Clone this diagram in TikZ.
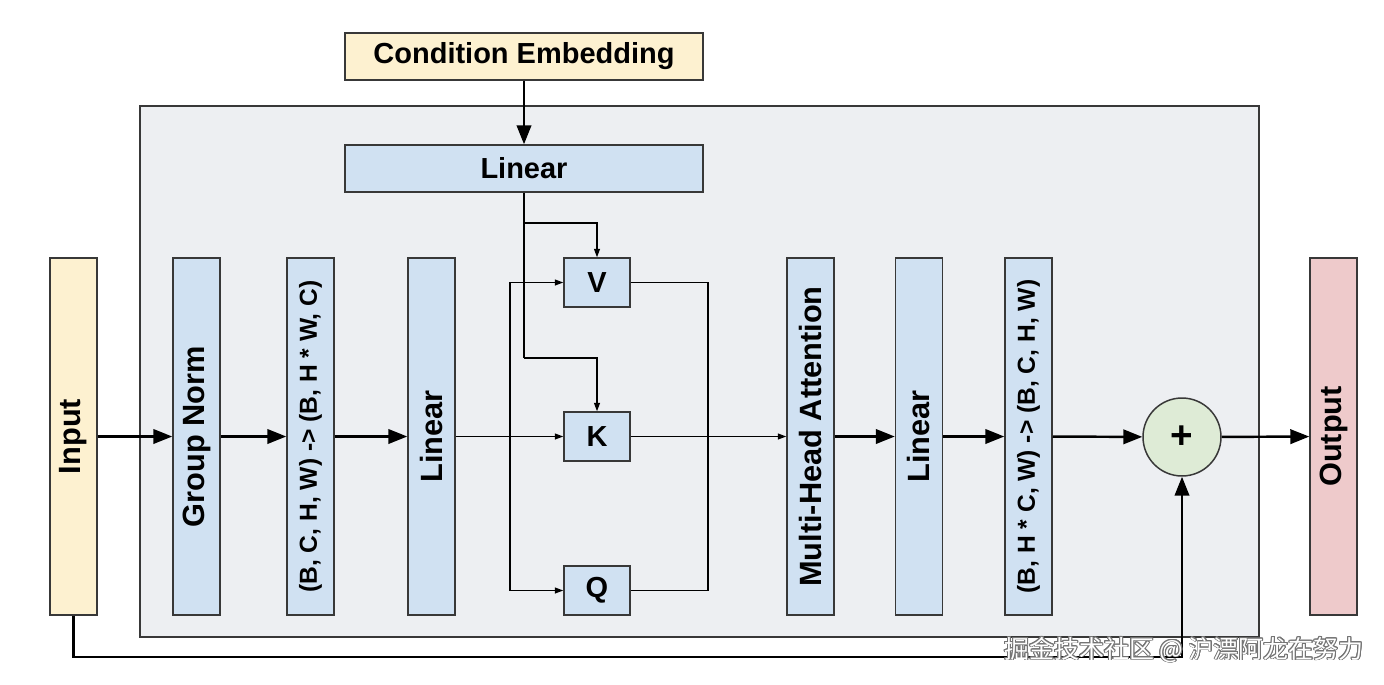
\documentclass[tikz,border=0pt]{standalone}
\usepackage{fontspec}
\setmainfont{Liberation Sans}
\newfontfamily\cjk{Noto Sans CJK SC}
\usepackage{graphicx}
\usepackage{xcolor}
\usepackage{contour}
\usetikzlibrary{arrows.meta}

\definecolor{panelgray}{HTML}{EDEFF2}
\definecolor{edgegray}{HTML}{383838}
\definecolor{boxblue}{HTML}{D0E1F2}
\definecolor{boxyellow}{HTML}{FDF1D0}
\definecolor{boxpink}{HTML}{EECACB}
\definecolor{boxgreen}{HTML}{DEEBD6}
\contourlength{0.5pt}

\begin{document}
\begin{tikzpicture}[x=0.02cm, y=-0.02cm,
        block/.style={draw=edgegray, line width=0.85pt, fill=boxblue, inner sep=0pt,
            minimum width=0.94cm, minimum height=7.14cm,
            font=\bfseries\fontsize{17.5}{20}\selectfont},
        shapebox/.style={block, font=\bfseries\fontsize{14}{16}\selectfont},
        smallbox/.style={draw=edgegray, line width=0.85pt, fill=boxblue, inner sep=0pt,
            minimum width=1.32cm, minimum height=0.98cm,
            font=\bfseries\fontsize{16.5}{19}\selectfont},
        widebox/.style={smallbox, minimum width=7.16cm, minimum height=0.94cm},
        bigarrow/.style={line width=1.4pt, -{Triangle[length=0.38cm, width=0.29cm]}},
        thinarrow/.style={line width=0.7pt, -{Triangle[length=0.17cm, width=0.12cm]}},
        thinline/.style={line width=0.7pt}]
    \useasboundingbox (0, 0) rectangle (1384, 684);

    % attention panel
    \filldraw [fill = panelgray, draw = edgegray, line width = 0.8pt] (140, 106) rectangle (1259, 637);

    \node [widebox, fill = boxyellow] (cond) at (524, 56.5) {Condition Embedding};
    \node [widebox] (lincond) at (524, 168.5) {Linear};

    \node [block, fill = boxyellow] (input) at (73.5, 436.5) {\rotatebox{90}{Input}};
    \node [block] (gnorm) at (196.5, 436.5) {\rotatebox{90}{Group Norm}};
    \node [shapebox] (flat) at (310.5, 436.5) {\rotatebox{90}{(B, C, H, W) -> (B, H * W, C)}};
    \node [block] (linin) at (431.5, 436.5) {\rotatebox{90}{Linear}};

    \node [smallbox] (v) at (597, 282.5) {V};
    \node [smallbox] (k) at (597, 436.5) {K};
    \node [smallbox] (q) at (597, 590.5) {Q};

    \node [block] (mha) at (810.5, 436.5) {\rotatebox{90}{Multi-Head Attention}};
    \node [block] (linout) at (919, 436.5) {\rotatebox{90}{Linear}};
    \node [shapebox] (unflat) at (1028.5, 436.5) {\rotatebox{90}{(B, H * C, W) -> (B, C, H, W)}};
    \node [circle, draw = edgegray, line width = 0.85pt, fill = boxgreen, minimum size = 1.56cm,
        inner sep = 0pt, font = \bfseries\fontsize{22}{24}\selectfont] (plus) at (1182, 437) {+};
    \node [block, fill = boxpink] (output) at (1333.5, 436.5) {\rotatebox{90}{Output}};

    \coordinate (split) at (510, 436.5);
    \coordinate (tapv) at (524, 223);
    \coordinate (tapk) at (524, 358);
    \coordinate (merge) at (708, 436.5);
    \coordinate (skip) at (1182, 657);

    % main path
    \draw [bigarrow] (cond) -- (lincond);
    \draw [bigarrow] (input) -- (gnorm);
    \draw [bigarrow] (gnorm) -- (flat);
    \draw [bigarrow] (flat) -- (linin);
    \draw [thinarrow] (linin) -- (k);
    \draw [thinarrow] (split) |- (v);
    \draw [thinarrow] (split) |- (q);
    \draw [thinline] (lincond) -- (tapk);
    \draw [thinarrow] (tapv) -| (v);
    \draw [thinarrow] (tapk) -| (k);
    \draw [thinline] (v) -| (merge) |- (q);
    \draw [thinarrow] (k) -- (mha);
    \draw [bigarrow] (mha) -- (linout);
    \draw [bigarrow] (linout) -- (unflat);
    \draw [bigarrow] (unflat) -- (plus);
    \draw [bigarrow] (plus) -- (output);

    % residual
    \draw [bigarrow] (input) |- (skip) -- (plus);

    \node [text = white, font = \cjk\fontsize{14.2}{16}\selectfont] (mark) at (1184, 650)
        {\contour{edgegray!70}{掘金技术社区 @ 沪漂阿龙在努力}};
\end{tikzpicture}
\end{document}
